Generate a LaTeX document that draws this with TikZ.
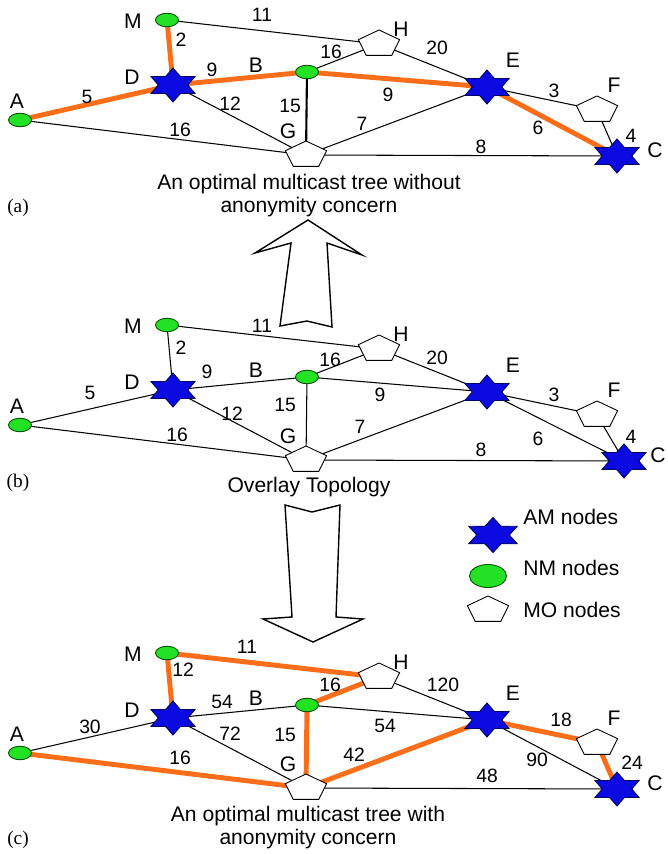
\documentclass[tikz,border=0pt]{standalone}
\usepackage{fontspec}
\setmainfont{Liberation Sans}
\newfontfamily\tagfont{Liberation Serif}
\usepackage{tikz}
\usetikzlibrary{shapes.geometric, backgrounds}
\definecolor{amblue}{RGB}{10, 10, 225}
\definecolor{nmgreen}{RGB}{35, 225, 35}
\definecolor{treeorange}{RGB}{250, 110, 25}

\begin{document}
\begin{tikzpicture}[
  x=0.02cm, y=-0.02cm,
  amnode/.style={star, star points=6, star point ratio=1.73, minimum size=0.68cm, inner sep=0pt, fill=amblue, draw=amblue!40!black, line width=0.5pt, transform shape, xscale=1.5},
  nmnode/.style={ellipse, minimum width=0.46cm, minimum height=0.27cm, inner sep=0pt, fill=nmgreen, draw=green!30!black, line width=0.5pt},
  monode/.style={regular polygon, regular polygon sides=5, minimum size=0.56cm, inner sep=0pt, fill=white, draw=black, line width=0.5pt, transform shape, xscale=1.55},
  link/.style={draw=black, line width=0.6pt},
  tree/.style={draw=treeorange, line width=2.8pt},
  lbl/.style={font=\fontsize{12}{14}\selectfont, inner sep=0pt},
  wt/.style={font=\fontsize{11}{13}\selectfont, inner sep=0pt},
  caption/.style={font=\fontsize{12}{13.1}\selectfont, align=center, inner sep=0pt},
  tag/.style={font=\tagfont\fontsize{11}{13}\selectfont, inner sep=0pt},
  blockarrow/.style={draw=black, fill=white, line width=0.8pt, line join=miter}
]
  \useasboundingbox (0,0) rectangle (667,854);

  % the same overlay in three panels
  \foreach \panel/\dy/\cx/\lx in {a/0/617/655, b/305/624/658, c/633/617/655} {
    \begin{scope}[shift={(0,\dy)}]
      \node[nmnode] (\panel M) at (167,20) {};
      \node[amnode] (\panel D) at (173,85) {};
      \node[nmnode] (\panel A) at (20,120) {};
      \node[nmnode] (\panel B) at (307,72) {};
      \node[monode] (\panel G) at (306,155) {};
      \node[monode] (\panel H) at (379,44) {};
      \node[amnode] (\panel E) at (487,87) {};
      \node[monode] (\panel F) at (597,110) {};
      \node[amnode] (\panel C) at (\cx,156) {};
      \node[lbl] at (133,21) {M};
      \node[lbl] at (132,77) {D};
      \node[lbl] at (17,101) {A};
      \node[lbl] at (256,65) {B};
      \node[lbl] at (288,131) {G};
      \node[lbl] at (401,29) {H};
      \node[lbl] at (513,60) {E};
      \node[lbl] at (614,85) {F};
      \node[lbl] at (\lx,150) {C};
    \end{scope}
  }

  % (a) tree without anonymity concern
  \begin{scope}[on background layer]
    \draw[link] (aM.center) -- (aH.center);
    \draw[link] (aD.center) -- (aG.center);
    \draw[link] (aA.center) -- (aG.center);
    \draw[link, line width=1.2pt] (aB.center) -- (aG.center);
    \draw[link] (aB.center) -- (aH.center);
    \draw[link] (aH.center) -- (aE.center);
    \draw[link] (aG.center) -- (aE.center);
    \draw[link] (aG.center) -- (aC.center);
    \draw[link] (aE.center) -- (aF.center);
    \draw[link] (aF.center) -- (aC.center);
    \draw[tree] (aM.center) -- (aD.center);
    \draw[tree] (aA.center) -- (aD.center);
    \draw[tree] (aD.center) -- (aB.center);
    \draw[tree] (aB.center) -- (aE.center);
    \draw[tree] (aE.center) -- (aC.center);
  \end{scope}
  \node[wt] at (262,15) {11};
  \node[wt] at (181,40) {2};
  \node[wt] at (212,70) {9};
  \node[wt] at (87,97) {5};
  \node[wt] at (230,104) {12};
  \node[wt] at (290,106) {15};
  \node[wt] at (180,130) {16};
  \node[wt] at (331,52) {16};
  \node[wt] at (437,48) {20};
  \node[wt] at (388,95) {9};
  \node[wt] at (362,124) {7};
  \node[wt] at (481,147) {8};
  \node[wt] at (554,91) {3};
  \node[wt] at (538,128) {6};
  \node[wt] at (631,136) {4};
  \node[caption] (capa) at (309,196) {An optimal multicast tree without\\anonymity concern};
  \node[tag] (taga) at (18,208) {(a)};

  % (b) overlay topology
  \begin{scope}[on background layer]
    \draw[link] (bM.center) -- (bH.center);
    \draw[link] (bM.center) -- (bD.center);
    \draw[link] (bA.center) -- (bD.center);
    \draw[link] (bD.center) -- (bB.center);
    \draw[link] (bD.center) -- (bG.center);
    \draw[link] (bA.center) -- (bG.center);
    \draw[link] (bB.center) -- (bG.center);
    \draw[link] (bB.center) -- (bH.center);
    \draw[link] (bB.center) -- (bE.center);
    \draw[link] (bH.center) -- (bE.center);
    \draw[link] (bG.center) -- (bE.center);
    \draw[link] (bG.center) -- (bC.center);
    \draw[link] (bE.center) -- (bF.center);
    \draw[link] (bE.center) -- (bC.center);
    \draw[link] (bF.center) -- (bC.center);
  \end{scope}
  \node[wt] at (262,326) {11};
  \node[wt] at (181,348) {2};
  \node[wt] at (207,372) {9};
  \node[wt] at (90,393) {5};
  \node[wt] at (232,414) {12};
  \node[wt] at (285,405) {15};
  \node[wt] at (177,435) {16};
  \node[wt] at (330,360) {16};
  \node[wt] at (437,358) {20};
  \node[wt] at (380,395) {9};
  \node[wt] at (360,427) {7};
  \node[wt] at (481,450) {8};
  \node[wt] at (554,395) {3};
  \node[wt] at (538,439) {6};
  \node[wt] at (631,437) {4};
  \node[caption] (capb) at (309,487) {Overlay Topology};
  \node[tag] (tagb) at (18,483) {(b)};

  % (c) tree with anonymity concern
  \begin{scope}[on background layer]
    \draw[link] (cA.center) -- (cD.center);
    \draw[link] (cD.center) -- (cB.center);
    \draw[link] (cD.center) -- (cG.center);
    \draw[link] (cH.center) -- (cE.center);
    \draw[link] (cB.center) -- (cE.center);
    \draw[link] (cG.center) -- (cC.center);
    \draw[link] (cE.center) -- (cC.center);
    \draw[tree] (cM.center) -- (cD.center);
    \draw[tree] (cM.center) -- (cH.center);
    \draw[tree] (cB.center) -- (cH.center);
    \draw[tree] (cB.center) -- (cG.center);
    \draw[tree] (cA.center) -- (cG.center);
    \draw[tree] (cG.center) -- (cE.center);
    \draw[tree] (cE.center) -- (cF.center);
    \draw[tree] (cF.center) -- (cC.center);
  \end{scope}
  \node[wt] at (247,647) {11};
  \node[wt] at (183,670) {12};
  \node[wt] at (222,702) {54};
  \node[wt] at (90,727) {30};
  \node[wt] at (230,734) {72};
  \node[wt] at (285,735) {15};
  \node[wt] at (180,758) {16};
  \node[wt] at (330,685) {16};
  \node[wt] at (443,685) {120};
  \node[wt] at (385,726) {54};
  \node[wt] at (354,755) {42};
  \node[wt] at (487,776) {48};
  \node[wt] at (561,720) {18};
  \node[wt] at (537,760) {90};
  \node[wt] at (632,763) {24};
  \node[caption] (capc) at (308,828) {An optimal multicast tree with\\anonymity concern};
  \node[tag] (tagc) at (18,840) {(c)};

  % block arrows between panels
  \draw[blockarrow] (308,220) -- (362,255) -- (327,243) -- (332,327) -- (307,321) -- (280,326) -- (291,243) -- (255,253) -- cycle;
  \draw[blockarrow] (285,505) -- (312,512) -- (340,505) -- (336,617) -- (363,619) -- (313,642) -- (263,619) -- (292,617) -- cycle;

  % legend
  \node[amnode, minimum size=0.7cm, xscale=1.07] (keyam) at (493,535) {};
  \node[nmnode, minimum width=0.74cm, minimum height=0.46cm] (keynm) at (488,576) {};
  \node[monode] (keymo) at (488,610) {};
  \node[lbl, anchor=west] at (523,517) {AM nodes};
  \node[lbl, anchor=west] at (523,568) {NM nodes};
  \node[lbl, anchor=west] at (523,610) {MO nodes};
\end{tikzpicture}
\end{document}
